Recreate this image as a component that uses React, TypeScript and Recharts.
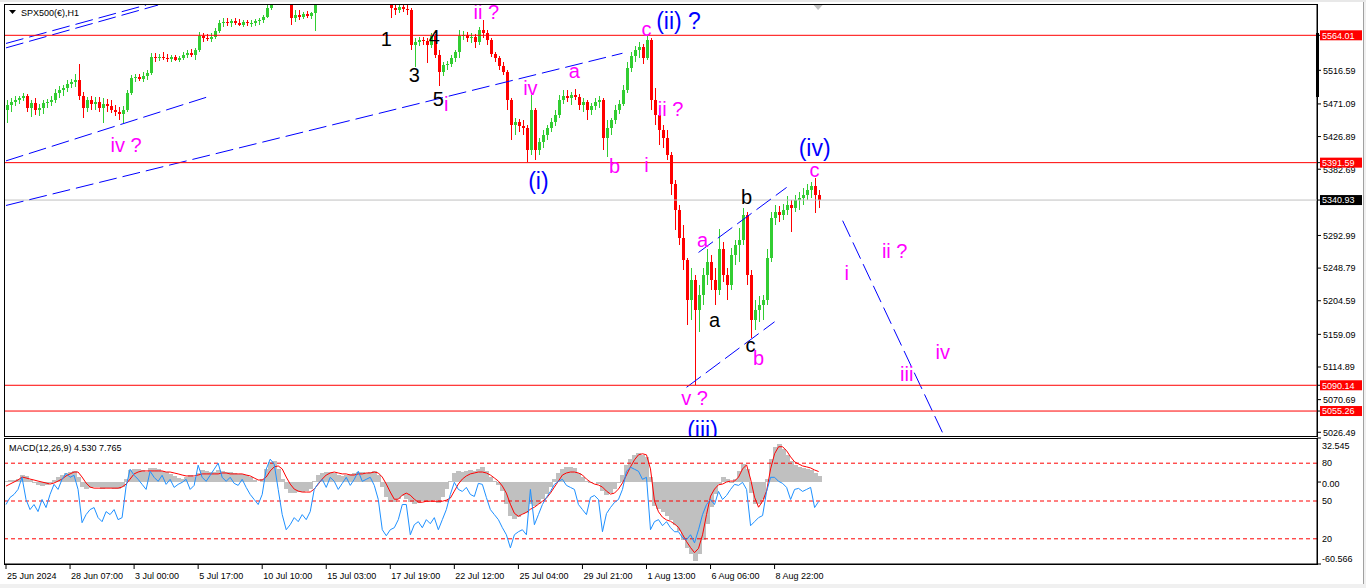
import React from 'react';
import { ComposedChart, Bar, Line, XAxis, YAxis, ReferenceLine, ReferenceDot } from 'recharts';

const FONT = '"Liberation Sans", Arial, Helvetica, sans-serif';
const GREEN = '#32CD32';
const RED = '#FF0000';

// ---------- data ----------
const TOTAL_SLOTS = 328;
const timeLabels = ['25 Jun 2024', '28 Jun 07:00', '3 Jul 00:00', '5 Jul 17:00', '10 Jul 10:00', '15 Jul 03:00', '17 Jul 19:00', '22 Jul 12:00', '25 Jul 04:00', '29 Jul 21:00', '1 Aug 13:00', '6 Aug 06:00', '8 Aug 22:00'];
const timeLabelSlots = [0, 16, 32, 48, 64, 80, 96, 112, 128, 144, 160, 176, 192];

const opens = [
  5463, 5470, 5474, 5477, 5479, 5482, 5466, 5473, 5463, 5466,
  5473, 5474, 5477, 5486, 5490, 5493, 5498, 5501, 5504, 5482,
  5466, 5477, 5471, 5474, 5466, 5471, 5468, 5463, 5460, 5458,
  5463, 5486, 5506, 5508, 5505, 5509, 5513, 5535, 5533, 5535,
  5533, 5532, 5535, 5531, 5533, 5538, 5540, 5538, 5544, 5563,
  5561, 5559, 5562, 5570, 5580, 5582, 5580, 5584, 5581, 5578,
  5582, 5580, 5581, 5584, 5585, 5589, 5601, 5619, 5639, 5646,
  5642, 5619, 5587, 5592, 5589, 5593, 5590, 5594, 5619, 5630,
  5642, 5650, 5660, 5668, 5672, 5664, 5670, 5660, 5650, 5645,
  5640, 5635, 5630, 5626, 5628, 5622, 5618, 5601, 5598, 5603,
  5600, 5598, 5551, 5555, 5558, 5556, 5551, 5563, 5538, 5515,
  5524, 5525, 5533, 5542, 5563, 5565, 5561, 5562, 5555, 5571,
  5567, 5558, 5539, 5533, 5523, 5515, 5477, 5443, 5447, 5441,
  5439, 5409, 5463, 5409, 5420, 5429, 5439, 5447, 5456, 5477,
  5482, 5479, 5483, 5481, 5470, 5474, 5463, 5468, 5474, 5477,
  5425, 5439, 5449, 5463, 5471, 5490, 5520, 5536, 5544, 5548,
  5533, 5558, 5477, 5456, 5436, 5425, 5402, 5362, 5328, 5290,
  5260, 5206, 5233, 5192, 5213, 5240, 5257, 5233, 5219, 5274,
  5240, 5226, 5267, 5280, 5287, 5321, 5240, 5179, 5192, 5199,
  5206, 5263, 5317, 5325, 5321, 5328, 5334, 5330, 5341, 5344,
  5348, 5355, 5360, 5348,
];
const highs = [
  5477, 5479, 5482, 5482, 5486, 5485, 5477, 5479, 5471, 5477,
  5478, 5482, 5491, 5496, 5497, 5504, 5505, 5512, 5525, 5487,
  5481, 5482, 5481, 5481, 5479, 5478, 5477, 5470, 5467, 5468,
  5490, 5510, 5512, 5512, 5515, 5517, 5540, 5540, 5539, 5542,
  5539, 5538, 5538, 5536, 5542, 5544, 5546, 5547, 5569, 5567,
  5566, 5567, 5574, 5585, 5588, 5588, 5586, 5588, 5586, 5585,
  5585, 5585, 5586, 5588, 5592, 5607, 5639, 5653, 5659, 5663,
  5653, 5623, 5598, 5598, 5596, 5597, 5596, 5626, 5635, 5648,
  5656, 5664, 5672, 5678, 5676, 5674, 5672, 5664, 5656, 5650,
  5646, 5640, 5636, 5634, 5632, 5628, 5626, 5605, 5607, 5607,
  5607, 5601, 5561, 5562, 5562, 5561, 5567, 5566, 5544, 5528,
  5529, 5538, 5544, 5571, 5570, 5569, 5567, 5566, 5575, 5585,
  5571, 5561, 5542, 5536, 5528, 5517, 5479, 5452, 5451, 5449,
  5443, 5483, 5466, 5425, 5436, 5443, 5452, 5463, 5483, 5490,
  5490, 5487, 5491, 5485, 5479, 5477, 5473, 5479, 5482, 5479,
  5449, 5452, 5470, 5477, 5497, 5528, 5542, 5550, 5555, 5552,
  5564, 5561, 5493, 5466, 5443, 5436, 5406, 5368, 5334, 5307,
  5263, 5249, 5240, 5226, 5249, 5274, 5267, 5249, 5302, 5284,
  5249, 5276, 5287, 5303, 5330, 5325, 5246, 5206, 5211, 5213,
  5274, 5325, 5334, 5333, 5336, 5347, 5341, 5348, 5352, 5357,
  5362, 5366, 5371, 5355,
];
const lows = [
  5445, 5460, 5468, 5471, 5475, 5460, 5454, 5456, 5455, 5458,
  5466, 5468, 5473, 5479, 5482, 5487, 5493, 5494, 5477, 5452,
  5460, 5463, 5463, 5460, 5445, 5460, 5459, 5455, 5449, 5445,
  5460, 5483, 5501, 5502, 5501, 5504, 5510, 5528, 5529, 5531,
  5528, 5528, 5529, 5528, 5531, 5533, 5535, 5531, 5542, 5555,
  5556, 5555, 5559, 5567, 5575, 5577, 5575, 5578, 5577, 5575,
  5577, 5575, 5577, 5578, 5581, 5588, 5598, 5616, 5628, 5636,
  5612, 5578, 5582, 5585, 5586, 5588, 5586, 5570, 5614, 5625,
  5636, 5645, 5654, 5660, 5660, 5658, 5655, 5645, 5640, 5634,
  5628, 5624, 5620, 5620, 5616, 5612, 5588, 5592, 5594, 5596,
  5592, 5544, 5521, 5550, 5551, 5527, 5547, 5533, 5496, 5509,
  5517, 5521, 5528, 5533, 5558, 5555, 5554, 5547, 5551, 5561,
  5551, 5535, 5528, 5517, 5510, 5463, 5422, 5429, 5433, 5429,
  5393, 5402, 5395, 5402, 5412, 5422, 5433, 5441, 5452, 5471,
  5474, 5470, 5477, 5463, 5460, 5449, 5456, 5463, 5466, 5409,
  5399, 5429, 5444, 5458, 5468, 5486, 5515, 5528, 5533, 5525,
  5531, 5463, 5443, 5416, 5412, 5395, 5348, 5301, 5280, 5246,
  5172, 5179, 5090.5, 5162, 5199, 5226, 5219, 5199, 5213, 5230,
  5206, 5219, 5253, 5257, 5280, 5226, 5154, 5165, 5176, 5179,
  5199, 5257, 5307, 5311, 5314, 5321, 5298, 5325, 5328, 5334,
  5341, 5344, 5324, 5330,
];
const closes = [
  5470, 5474, 5477, 5479, 5482, 5466, 5473, 5463, 5466, 5473,
  5474, 5477, 5486, 5490, 5493, 5498, 5501, 5504, 5482, 5466,
  5477, 5471, 5474, 5466, 5471, 5468, 5463, 5460, 5458, 5463,
  5486, 5506, 5508, 5505, 5509, 5513, 5535, 5533, 5535, 5533,
  5532, 5535, 5531, 5533, 5538, 5540, 5538, 5544, 5563, 5561,
  5559, 5562, 5570, 5580, 5582, 5580, 5584, 5581, 5578, 5582,
  5580, 5581, 5584, 5585, 5589, 5601, 5619, 5639, 5646, 5642,
  5619, 5587, 5592, 5589, 5593, 5590, 5594, 5619, 5630, 5642,
  5650, 5660, 5668, 5672, 5664, 5670, 5660, 5650, 5645, 5640,
  5635, 5630, 5626, 5628, 5622, 5618, 5601, 5598, 5603, 5600,
  5598, 5551, 5555, 5558, 5556, 5551, 5563, 5538, 5515, 5524,
  5525, 5533, 5542, 5563, 5565, 5561, 5562, 5555, 5571, 5567,
  5558, 5539, 5533, 5523, 5515, 5477, 5443, 5447, 5441, 5439,
  5409, 5463, 5409, 5420, 5429, 5439, 5447, 5456, 5477, 5482,
  5479, 5483, 5481, 5470, 5474, 5463, 5468, 5474, 5477, 5425,
  5439, 5449, 5463, 5471, 5490, 5520, 5536, 5544, 5548, 5533,
  5558, 5477, 5456, 5436, 5425, 5402, 5362, 5328, 5290, 5260,
  5206, 5233, 5192, 5213, 5240, 5257, 5233, 5219, 5274, 5240,
  5226, 5267, 5280, 5287, 5321, 5240, 5179, 5192, 5199, 5206,
  5263, 5317, 5325, 5321, 5328, 5334, 5330, 5341, 5344, 5348,
  5355, 5360, 5348, 5340.93,
];

const macdMain = [
  0.7, 1.5, 1.5, 2.2, 5.2, 4.5, 1.5, -0.7, -2.2, -3.0,
  -2.2, -0.7, 1.5, 3.7, 5.2, 6.7, 7.4, 8.2, 3.7, -3.7,
  -5.2, -4.5, -3.7, -3.7, -5.2, -4.5, -4.5, -5.2, -5.2, -3.7,
  2.2, 8.9, 9.7, 9.7, 8.9, 7.4, 10.4, 10.4, 9.7, 8.2,
  7.4, 6.0, 4.5, 3.0, 2.2, 3.7, 5.2, 3.7, 6.7, 8.9,
  8.2, 7.4, 7.4, 8.9, 8.2, 7.4, 7.4, 6.7, 6.0, 6.0,
  5.2, 3.7, 1.5, 0, 2.2, 9.7, 14.9, 15.6, 9.7, 2.2,
  -5.2, -8.2, -8.2, -7.4, -7.4, -6.7, -5.2, 0.7, 5.2, 6.7,
  7.4, 7.4, 6.7, 5.2, 4.5, 5.2, 6.0, 6.7, 7.4, 7.4,
  6.7, 7.4, 8.2, 5.2, -3.7, -11.2, -14.9, -14.9, -12.7, -10.4,
  -12.7, -14.9, -16.4, -15.6, -14.2, -14.9, -14.2, -13.4, -15.6, -11.2,
  -5.2, 0.7, 6.7, 8.2, 7.4, 8.2, 8.9, 8.2, 9.7, 11.2,
  8.2, 3.7, 0.7, -2.2, -6.7, -16.4, -25.3, -27.6, -26.1, -23.8,
  -23.1, -16.4, -17.9, -16.4, -12.7, -8.9, -3.7, 2.2, 6.7, 9.7,
  11.2, 11.2, 10.4, 6.7, 3.7, 0.7, -0.7, 0, -1.5, -6.7,
  -9.7, -8.2, -5.2, -0.7, 5.2, 12.7, 17.1, 20.1, 21.6, 20.1,
  18.6, 3.7, -17.9, -20, -22, -25, -28, -32, -36.5, -42.5,
  -48.4, -53, -58, -53, -42.5, -31.3, -18.6, -8.9, -1.5, 3.7,
  2.2, -0.7, 2.2, 8.2, 13.4, 9.7, -8.2, -16.4, -16.4, -12.7,
  2.2, 17.1, 26.1, 28.3, 24.6, 20.1, 15.6, 12.7, 11.2, 10.4,
  9.7, 8.9, 6.7, 4.53,
];
const macdSignal = [
  -3.0, -1.5, 0, 1.5, 3.7, 3.0, 2.2, 1.5, 0.7, 0,
  -0.7, -1.5, -0.7, 0.7, 2.2, 4.5, 6.0, 7.4, 7.4, 3.7,
  -0.7, -3.7, -4.5, -4.5, -4.5, -4.5, -4.5, -4.5, -4.5, -3.7,
  -1.5, 2.2, 6.0, 7.4, 8.2, 8.2, 8.2, 8.2, 8.2, 8.2,
  7.4, 7.4, 6.7, 6.0, 5.2, 4.5, 4.5, 4.5, 5.2, 6.0,
  6.0, 6.0, 6.0, 6.0, 6.7, 6.7, 6.0, 6.0, 6.0, 6.0,
  5.2, 4.5, 3.0, 1.5, 1.5, 3.7, 8.2, 11.2, 11.9, 9.7,
  3.7, -1.5, -5.2, -6.7, -7.4, -7.4, -7.4, -5.2, -1.5, 2.2,
  5.2, 6.7, 7.4, 6.7, 6.0, 6.0, 5.2, 5.2, 6.0, 6.0,
  6.7, 6.7, 7.4, 6.7, 3.7, -1.5, -7.4, -12.7, -12.7, -9.7,
  -8.2, -9.7, -12.7, -14.9, -14.9, -14.2, -14.2, -14.2, -14.2, -14.2,
  -13.4, -11.9, -6.7, -1.5, 2.2, 4.5, 6.0, 6.7, 7.4, 7.4,
  6.7, 5.2, 3.0, 0.7, -3.0, -8.2, -16.4, -23.1, -25.3, -23.8,
  -22.4, -20.1, -18.6, -16.4, -14.2, -11.9, -8.2, -3.7, 0.7, 5.2,
  6.7, 7.4, 7.4, 6.7, 5.2, 2.2, 0, -1.5, -2.2, -3.7,
  -6.7, -8.9, -8.2, -5.2, -0.7, 5.2, 11.2, 16.4, 20.1, 20.9,
  20.1, 9.7, -14, -22, -26, -28, -29, -31, -33.5, -38.7,
  -44, -48.4, -52.2, -49, -39, -24, -10.4, -5.2, -2.0, -1.5,
  0, 0.7, 0.7, 3.7, 9.7, 12.7, 2.2, -11.2, -18.6, -14.2,
  -6.7, 9.7, 20.9, 26.1, 26.1, 23.1, 18.6, 14.9, 13.4, 11.9,
  11.2, 10.4, 8.9, 7.765,
];
const oscillator = [
  47.2, 52.8, 55.2, 59.2, 68.8, 51.2, 43.2, 47.2, 41.6, 51.2,
  44.8, 55.2, 63.2, 59.2, 67.2, 72.0, 68.8, 70.4, 59.2, 32.8,
  39.2, 43.2, 44.8, 36.8, 33.6, 41.6, 39.2, 43.2, 35.2, 36.8,
  61.6, 75.2, 70.4, 67.2, 63.2, 59.2, 73.6, 68.8, 65.6, 70.4,
  63.2, 67.2, 60.8, 63.2, 64.8, 67.2, 59.2, 62.4, 78.4, 68.8,
  65.6, 70.4, 75.2, 80.0, 68.8, 65.6, 68.8, 64.0, 62.4, 67.2,
  60.8, 55.2, 51.2, 47.2, 55.2, 75.2, 83.2, 79.2, 59.2, 39.2,
  27.2, 31.2, 36.8, 33.6, 39.2, 35.2, 41.6, 59.2, 64.0, 67.2,
  60.8, 68.8, 65.6, 59.2, 64.0, 68.8, 62.4, 67.2, 73.6, 65.6,
  67.2, 68.8, 62.4, 51.2, 27.2, 22.4, 27.2, 28.8, 35.2, 47.2,
  47.2, 23.2, 31.2, 33.6, 28.8, 35.2, 32.0, 36.8, 27.2, 35.2,
  43.2, 55.2, 64.8, 59.2, 57.6, 60.8, 55.2, 53.6, 64.0, 63.2,
  52.8, 43.2, 39.2, 35.2, 28.8, 23.2, 12.8, 23.2, 25.6, 27.2,
  23.2, 59.2, 31.2, 39.2, 47.2, 52.8, 57.6, 63.2, 65.6, 67.2,
  62.4, 60.8, 59.2, 47.2, 43.2, 39.2, 52.8, 54.4, 51.2, 25.6,
  40.0, 44.8, 48.8, 51.2, 59.2, 73.6, 76.8, 75.2, 73.6, 67.2,
  68.8, 27.2, 33.6, 35.2, 30.4, 33.6, 28.8, 25.6, 25.6, 20.8,
  19.2, 23.2, 16.8, 27.2, 39.2, 47.2, 51.2, 47.2, 57.6, 51.2,
  54.4, 59.2, 63.2, 62.4, 64.8, 59.2, 30.4, 33.6, 36.8, 38.4,
  57.6, 68.8, 68.8, 65.6, 64.0, 60.8, 51.2, 59.2, 60.0, 57.6,
  59.2, 60.8, 44.8, 49.6,
];

const PRICE_MIN = 5020.1;
const PRICE_MAX = 5606.4;
const priceTicks = [5516.59, 5471.09, 5426.89, 5382.69, 5292.99, 5248.79, 5204.59, 5159.09, 5114.89, 5070.69, 5026.49];
const redLevels = [5564.01, 5391.59, 5090.14, 5055.26];
const bidPrice = 5340.93;
const axisPriceTicks = [...priceTicks, ...redLevels, bidPrice];

const MACD_MIN = -60.566;
const MACD_MAX = 32.545;
const macdTicks = [32.545, 0, -60.566];
const oscLevels = [80, 50, 20];

// trend lines: [slot1, price1, slot2, price2]
const trendLines: number[][] = [
  [0, 5547, 38, 5605],
  [0, 5553, 35, 5605],
  [0, 5394, 50, 5480],
  [0, 5333.6, 154, 5539.7],
  [173, 5270, 195, 5358],
  [170, 5087.4, 192, 5176.1],
  [209, 5313, 235, 5014],
];

// wave labels: text, slot, price, kind
const waveLabels: [string, number, number, string][] = [
  ['1', 95, 5559, 'black'],
  ['4', 107, 5562, 'black'],
  ['3', 102, 5510, 'black'],
  ['5', 108, 5478, 'black'],
  ['i', 110, 5471, 'magenta'],
  ['ii ?', 120, 5596, 'magenta'],
  ['iv ?', 30, 5416, 'magenta'],
  ['iv', 131, 5493, 'magenta'],
  ['a', 142, 5516, 'magenta'],
  ['(i)', 133, 5367, 'blue'],
  ['b', 152, 5387, 'magenta'],
  ['i', 160, 5388, 'magenta'],
  ['c', 160, 5573, 'magenta'],
  ['(ii) ?', 168, 5583, 'blue'],
  ['ii ?', 166, 5464, 'magenta'],
  ['(iv)', 202, 5411, 'blue'],
  ['c', 202, 5382, 'magenta'],
  ['b', 185, 5345, 'black'],
  ['a', 174, 5287, 'magenta'],
  ['a', 177, 5179, 'black'],
  ['c', 186, 5145, 'black'],
  ['b', 188, 5127, 'magenta'],
  ['v ?', 172, 5073, 'magenta'],
  ['(iii)', 174, 5030, 'blue'],
  ['i', 210, 5242, 'magenta'],
  ['ii ?', 222, 5272, 'magenta'],
  ['iii', 225, 5105, 'magenta'],
  ['iv', 234, 5135, 'magenta'],
];

const N = closes.length;
const rows = Array.from({ length: TOTAL_SLOTS }, (_, i) =>
  i < N
    ? {
        idx: i,
        o: opens[i],
        h: highs[i],
        l: lows[i],
        c: closes[i],
        range: [lows[i], highs[i]],
        macd: macdMain[i],
        signal: macdSignal[i],
        osc: oscillator[i],
      }
    : { idx: i }
);

const kindColor: Record<string, string> = { black: '#000000', magenta: '#FF00FF', blue: '#0000FF' };
const kindSize: Record<string, number> = { black: 20, magenta: 20, blue: 23 };

// ---------- renderers ----------
function Candle(props: any) {
  const { x, y, width, height, payload } = props;
  if (!payload || payload.h == null || !isFinite(y) || !isFinite(height)) return <g />;
  const top = Math.min(y, y + height);
  const bottom = Math.max(y, y + height);
  const span = payload.h - payload.l;
  const k = span > 0 ? (bottom - top) / span : 0;
  const yO = top + (payload.h - payload.o) * k;
  const yC = top + (payload.h - payload.c) * k;
  const col = payload.c >= payload.o ? GREEN : RED;
  const cx = Math.round(x + width / 2);
  const bTop = Math.min(yO, yC);
  const bH = Math.max(1, Math.abs(yO - yC));
  return (
    <g shapeRendering="crispEdges">
      <rect x={cx} y={top} width={1} height={Math.max(1, bottom - top)} fill={col} />
      <rect x={cx - 1} y={bTop} width={3} height={bH} fill={col} />
    </g>
  );
}

function HistBar(props: any) {
  const { x, y, width, height } = props;
  if (!isFinite(x) || !isFinite(y) || !isFinite(height)) return <g />;
  const cx = x + width / 2;
  const top = Math.min(y, y + height);
  const h = Math.abs(height);
  return <rect x={Math.round(cx - 2)} y={top} width={5} height={h} fill="#C0C0C0" shapeRendering="crispEdges" />;
}

function PriceTick(props: any) {
  const { x, y, payload } = props;
  const v = Number(payload.value);
  const isRed = redLevels.indexOf(v) >= 0;
  const isBid = v === bidPrice;
  if (isRed || isBid) {
    return (
      <g>
        <rect x={x - 3} y={y - 5} width={42} height={10} fill={isRed ? RED : '#000000'} />
        <text x={x - 1} y={y + 3.3} fontSize={9} fontFamily={FONT} fill="#FFFFFF" textAnchor="start">
          {v.toFixed(2)}
        </text>
      </g>
    );
  }
  return (
    <text x={x} y={y + 3.3} fontSize={9} fontFamily={FONT} fill="#000" textAnchor="start">
      {v.toFixed(2)}
    </text>
  );
}

function MacdTick(props: any) {
  const { x, y, payload } = props;
  const v = Number(payload.value);
  const dy = v > 0 ? 11 : v < 0 ? -2 : 5.3;
  const txt = v === 0 ? '0.00' : String(v);
  return (
    <text x={x} y={y + dy} fontSize={9} fontFamily={FONT} fill="#000" textAnchor="start">
      {txt}
    </text>
  );
}

function TimeTick(props: any) {
  const { x, y, payload } = props;
  const k = timeLabelSlots.indexOf(Number(payload.value));
  return (
    <text x={x + 1} y={y + 8} fontSize={9} fontFamily={FONT} fill="#000" textAnchor="start">
      {k >= 0 ? timeLabels[k] : ''}
    </text>
  );
}

function ShiftMarker(props: any) {
  const { cx, cy } = props;
  if (!isFinite(cx) || !isFinite(cy)) return <g />;
  return <polygon points={`${cx - 5},${cy + 1} ${cx + 4},${cy + 1} ${cx - 0.5},${cy + 6}`} fill="#C0C0C0" />;
}

const mainMargin = { top: 4, right: 0, bottom: 0, left: 4 };

export default function App() {
  return (
    <div style={{ position: 'absolute', left: 0, top: 0, width: 1366, height: 588, background: '#FFFFFF', overflow: 'hidden' }}>
      {/* price panel: axis + candles */}
      <div style={{ position: 'absolute', left: 0, top: 0 }}>
        <ComposedChart width={1366} height={437} data={rows} margin={mainMargin}>
          <XAxis dataKey="idx" type="category" hide />
          <YAxis
            orientation="right"
            width={49}
            type="number"
            domain={[PRICE_MIN, PRICE_MAX]}
            allowDataOverflow
            ticks={axisPriceTicks}
            interval={0}
            tick={<PriceTick />}
            tickSize={4}
            tickMargin={2}
            axisLine={{ stroke: '#000' }}
            tickLine={{ stroke: '#000' }}
          />
          <Bar dataKey="range" barSize={3} shape={Candle} isAnimationActive={false} />
        </ComposedChart>
      </div>

      {/* price panel: objects drawn over the candles */}
      <div style={{ position: 'absolute', left: 0, top: 0, pointerEvents: 'none' }}>
        <ComposedChart width={1366} height={437} data={rows} margin={mainMargin}>
          <XAxis dataKey="idx" type="category" hide />
          <YAxis
            orientation="right"
            width={49}
            type="number"
            domain={[PRICE_MIN, PRICE_MAX]}
            allowDataOverflow
            tick={false}
            axisLine={false}
            tickLine={false}
          />
          <Bar dataKey="none" isAnimationActive={false} />
          <ReferenceLine y={bidPrice} stroke="#C0C0C0" strokeWidth={1} />
          {trendLines.map((t, k) => (
            <ReferenceLine
              key={'t' + k}
              segment={[{ x: t[0], y: t[1] }, { x: t[2], y: t[3] }]}
              stroke="#0000FF"
              strokeWidth={1}
              strokeDasharray="18 6"
              ifOverflow="hidden"
            />
          ))}
          {redLevels.map((v) => (
            <ReferenceLine key={'r' + v} y={v} stroke={RED} strokeWidth={1} />
          ))}
          {waveLabels.map((w, k) => (
            <ReferenceDot
              key={'w' + k}
              x={w[1]}
              y={w[2]}
              r={0}
              fill="none"
              stroke="none"
              ifOverflow="hidden"
              label={{ value: w[0], position: 'center', fill: kindColor[w[3]], fontSize: kindSize[w[3]], fontFamily: FONT }}
            />
          ))}
          <ReferenceDot x={N - 1} y={PRICE_MAX} r={0} shape={ShiftMarker} ifOverflow="visible" />
        </ComposedChart>
      </div>

      {/* MACD panel */}
      <div style={{ position: 'absolute', left: 0, top: 436 }}>
        <ComposedChart width={1366} height={152} data={rows} margin={{ top: 2, right: 0, bottom: 0, left: 4 }} barCategoryGap={0} barGap={0}>
          <XAxis
            dataKey="idx"
            type="category"
            ticks={timeLabelSlots}
            interval={0}
            tick={<TimeTick />}
            tickSize={5}
            tickMargin={2}
            height={24}
            axisLine={{ stroke: '#000' }}
            tickLine={{ stroke: '#000' }}
          />
          <YAxis
            yAxisId="macd"
            orientation="right"
            width={49}
            type="number"
            domain={[MACD_MIN, MACD_MAX]}
            allowDataOverflow
            ticks={macdTicks}
            interval={0}
            tick={<MacdTick />}
            tickSize={4}
            tickMargin={1}
            axisLine={{ stroke: '#000' }}
            tickLine={{ stroke: '#000' }}
          />
          <YAxis yAxisId="osc" hide type="number" domain={[0, 100]} allowDataOverflow />
          <Bar yAxisId="macd" dataKey="macd" shape={HistBar} isAnimationActive={false} />
          {oscLevels.map((v) => (
            <ReferenceLine
              key={'l' + v}
              yAxisId="osc"
              y={v}
              stroke={RED}
              strokeWidth={1}
              strokeDasharray="4 3"
              label={{ value: String(v), position: 'right', fill: '#000', fontSize: 9, fontFamily: FONT, offset: 5 }}
            />
          ))}
          <Line yAxisId="macd" dataKey="signal" stroke={RED} strokeWidth={1} dot={false} isAnimationActive={false} />
          <Line yAxisId="osc" dataKey="osc" stroke="#1E90FF" strokeWidth={1} dot={false} isAnimationActive={false} />
        </ComposedChart>
      </div>

      {/* frames and window chrome */}
      <div style={{ position: 'absolute', left: 4, top: 4, width: 1314, height: 433, border: '1px solid #000', boxSizing: 'border-box', pointerEvents: 'none' }} />
      <div style={{ position: 'absolute', left: 4, top: 438, width: 1314, height: 127, border: '1px solid #000', boxSizing: 'border-box', pointerEvents: 'none' }} />
      <div style={{ position: 'absolute', left: 1316, top: 33, width: 3, height: 64, background: '#000' }} />
      <div style={{ position: 'absolute', left: 1363, top: 0, width: 1, height: 588, background: '#A0A0A0' }} />
      <div style={{ position: 'absolute', left: 1364, top: 0, width: 2, height: 588, background: '#F0F0F0' }} />
      <div style={{ position: 'absolute', left: 0, top: 0, width: 1366, height: 2, background: '#E8E8E8' }} />
      <div style={{ position: 'absolute', left: 0, top: 584, width: 1366, height: 4, background: '#F0F0F0' }} />

      <div style={{ position: 'absolute', left: 9, top: 8, display: 'flex', alignItems: 'center', fontFamily: FONT, fontSize: 9, color: '#000', whiteSpace: 'nowrap' }}>
        <svg width={8} height={6} style={{ marginRight: 4 }}>
          <polygon points="0,0 7,0 3.5,4" fill="#000" />
        </svg>
        <span>SPX500(€),H1</span>
      </div>
      <div style={{ position: 'absolute', left: 9, top: 443, fontFamily: FONT, fontSize: 9, color: '#000', whiteSpace: 'nowrap' }}>
        MACD(12,26,9) 4.530 7.765
      </div>
    </div>
  );
}
